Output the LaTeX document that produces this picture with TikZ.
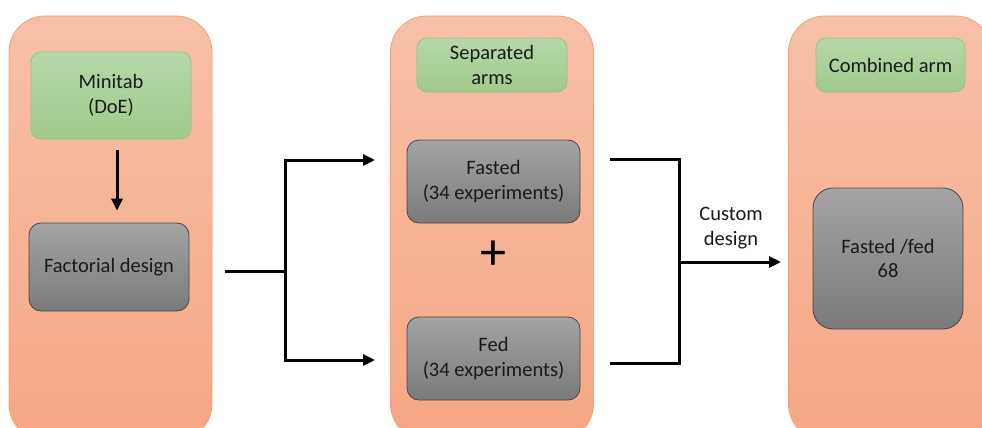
\documentclass[tikz,border=0pt]{standalone}
\usepackage{fontspec}
\setmainfont{Carlito}
\usetikzlibrary{arrows.meta}

\definecolor{paneltop}{HTML}{F7C0A6}
\definecolor{panelbot}{HTML}{F6A784}
\definecolor{panelline}{HTML}{F2A07C}
\definecolor{greentop}{HTML}{B6D8A8}
\definecolor{greenbot}{HTML}{A0CA8A}
\definecolor{greenline}{HTML}{96C37D}
\definecolor{graytop}{HTML}{A4A4A4}
\definecolor{graybot}{HTML}{7A7A7A}
\definecolor{grayline}{HTML}{484848}
\definecolor{inktext}{HTML}{1A1A1A}

\begin{document}
\begin{tikzpicture}[x=1pt,y=-1pt,
  txt/.style={font=\fontsize{20.5}{24.5}\selectfont, text=inktext},
  panel/.style={rectangle, rounded corners=36pt, draw=panelline, line width=0.8pt,
    top color=paneltop, bottom color=panelbot, minimum width=203pt,
    minimum height=424pt, inner sep=0pt},
  greenbox/.style={txt, rectangle, rounded corners=10pt, draw=greenline, line width=0.8pt,
    top color=greentop, bottom color=greenbot, align=center, inner sep=0pt},
  graybox/.style={txt, rectangle, rounded corners=12pt, draw=grayline, line width=0.8pt,
    top color=graytop, bottom color=graybot, align=center, inner sep=0pt},
  conn/.style={line width=3pt, line join=miter, black},
  tip/.tip={Triangle[length=12pt,width=11pt]},
  lbl/.style={txt, align=center}]
\useasboundingbox (0,0) rectangle (982,428);
\clip (0,0) rectangle (982,428);
\fill[white] (0,0) rectangle (982,428);

% three column panels
\node[panel] (p1) at (110.5,228) {};
\node[panel] (p2) at (492,228) {};
\node[panel] (p3) at (890,228) {};

% left column
\node[greenbox, minimum width=160pt, minimum height=87pt] (mini) at (111,95.5) {Minitab\\(DoE)};
\node[graybox, minimum width=160pt, minimum height=88pt] (fact) at (109,267) {Factorial design};
\draw[conn,-tip] ([xshift=6pt,yshift=-11pt]mini.south) -- ([xshift=8pt,yshift=12pt]fact.north);

% middle column
\node[greenbox, minimum width=150pt, minimum height=54pt] (sep) at (492,65) {Separated\\arms};
\node[graybox, minimum width=173pt, minimum height=83pt] (fast) at (493.5,181.5) {Fasted\\(34 experiments)};
\node[font=\fontsize{52}{52}\selectfont, inner sep=0pt] (plus) at (493,255) {+};
\node[graybox, minimum width=173pt, minimum height=83pt] (fed) at (493.5,358.5) {Fed\\(34 experiments)};

% right column
\node[greenbox, minimum width=149pt, minimum height=54pt] (comb) at (890.5,65) {Combined arm};
\node[graybox, rounded corners=20pt, minimum width=150pt, minimum height=141pt] (mix) at (888,258.5) {Fasted /fed\\68};

% split from the factorial design into the two arms
\coordinate (s1) at (225,271);
\coordinate (j1) at (285,271);
\coordinate (a1) at (375,160);
\coordinate (a2) at (375,360);
\draw[conn] (s1) -- (j1);
\draw[conn,-tip] (j1) |- (a1);
\draw[conn,-tip] (j1) |- (a2);

% merge of the two arms into the combined arm
\coordinate (b1) at (610,159);
\coordinate (b2) at (610,363);
\coordinate (j2) at (679,262);
\coordinate (c1) at (781,262);
\draw[conn] (b1) -| (j2) |- (b2);
\draw[conn,-tip] (j2) -- (c1);
\node[lbl] (cust) at (731,228) {Custom\\design};
\end{tikzpicture}
\end{document}
